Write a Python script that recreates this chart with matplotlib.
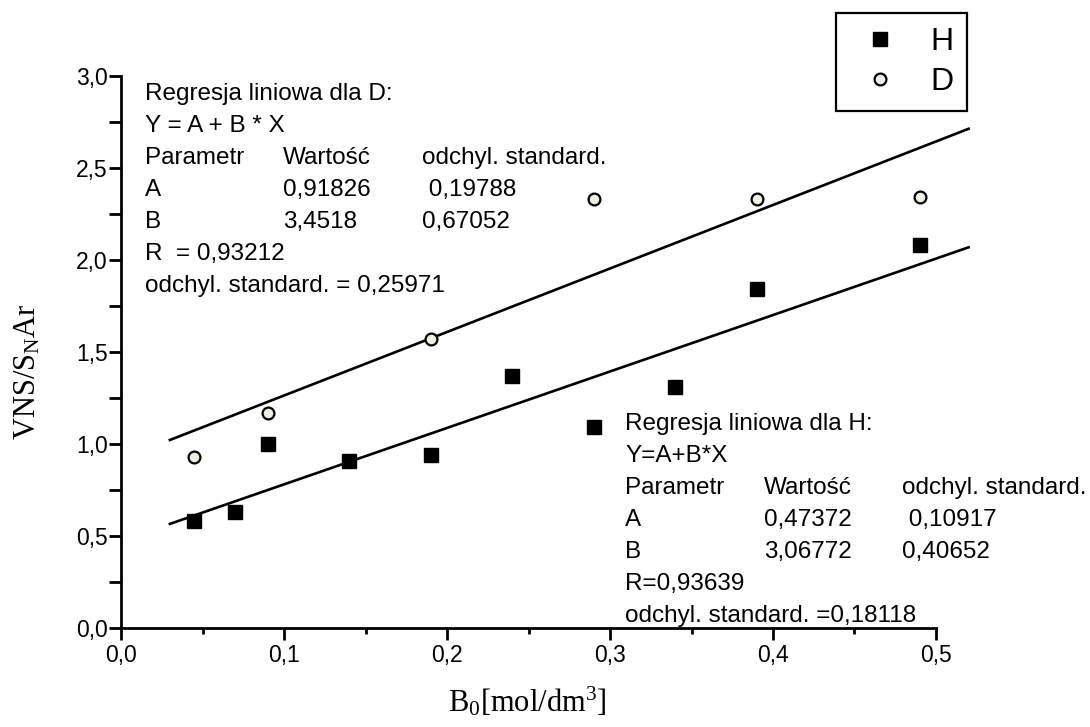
import matplotlib
matplotlib.use("Agg")
import matplotlib.pyplot as plt
from matplotlib.ticker import MultipleLocator, FuncFormatter

# --- data -------------------------------------------------------------
h_x = [0.045, 0.07, 0.09, 0.14, 0.19, 0.24, 0.29, 0.34, 0.39, 0.49]
h_y = [0.58, 0.63, 1.00, 0.91, 0.94, 1.37, 1.09, 1.31, 1.84, 2.08]

d_x = [0.045, 0.09, 0.19, 0.29, 0.39, 0.49]
d_y = [0.93, 1.17, 1.57, 2.33, 2.33, 2.34]

# linear regression results (Y = A + B * X)
h_A, h_B = 0.47372, 3.06772
d_A, d_B = 0.91826, 3.4518
fit_x = [0.03, 0.52]

d_table = [
    ("Regresja liniowa dla D:", "", ""),
    ("Y = A + B * X", "", ""),
    ("Parametr", "Wartość", "odchyl. standard."),
    ("A", "0,91826", " 0,19788"),
    ("B", "3,4518", "0,67052"),
    ("R  = 0,93212", "", ""),
    ("odchyl. standard. = 0,25971", "", ""),
]
h_table = [
    ("Regresja liniowa dla H:", "", ""),
    ("Y=A+B*X", "", ""),
    ("Parametr", "Wartość", "odchyl. standard."),
    ("A", "0,47372", " 0,10917"),
    ("B", "3,06772", "0,40652"),
    ("R=0,93639", "", ""),
    ("odchyl. standard. =0,18118", "", ""),
]

# --- figure -----------------------------------------------------------
W, H = 1090, 727
plt.rcParams["font.family"] = ["Liberation Sans", "DejaVu Sans"]
plt.rcParams["mathtext.fontset"] = "custom"
plt.rcParams["mathtext.rm"] = "Liberation Serif"
plt.rcParams["mathtext.it"] = "Liberation Serif:italic"

fig = plt.figure(figsize=(W / 100, H / 100), dpi=100)
ax = fig.add_axes([121 / W, 1 - 628 / H, 815 / W, 552 / H])

ax.set_xlim(0, 0.5)
ax.set_ylim(0, 3.0)

for side in ("top", "right"):
    ax.spines[side].set_visible(False)
for side in ("left", "bottom"):
    ax.spines[side].set_linewidth(2.0)

ax.xaxis.set_major_locator(MultipleLocator(0.1))
ax.xaxis.set_minor_locator(MultipleLocator(0.05))
ax.yaxis.set_major_locator(MultipleLocator(0.5))
ax.yaxis.set_minor_locator(MultipleLocator(0.25))
comma = FuncFormatter(lambda v, p: f"{v:.1f}".replace(".", ","))
ax.xaxis.set_major_formatter(comma)
ax.yaxis.set_major_formatter(comma)
ax.tick_params(axis="both", which="both", direction="out", width=2.0,
               labelsize=16.5)
ax.tick_params(axis="x", which="major", length=8.5, pad=3)
ax.tick_params(axis="x", which="minor", length=4)
ax.tick_params(axis="y", which="both", length=8.5, pad=1)

# regression lines
def line(A, B):
    return [A + B * x for x in fit_x]

ax.plot(fit_x, line(d_A, d_B), color="black", lw=1.9, clip_on=False, zorder=2)
ax.plot(fit_x, line(h_A, h_B), color="black", lw=1.9, clip_on=False, zorder=2)

# measured points
ax.plot(h_x, h_y, ls="none", marker="s", ms=9.5, color="black",
        label="H", zorder=3, clip_on=False)
ax.plot(d_x, d_y, ls="none", marker="o", ms=8.5, mfc="#eef1e2",
        mec="black", mew=1.6, label="D", zorder=3, clip_on=False)

ax.set_xlabel(r"$\mathrm{B_0[mol/dm^3]}$", fontsize=22, va="center")
ax.set_ylabel(r"$\mathrm{VNS/S_NAr}$", fontsize=22, va="center")
ax.xaxis.set_label_coords(527 / W, 1 - 702 / H, transform=fig.transFigure)
ax.yaxis.set_label_coords(28 / W, 1 - 372 / H, transform=fig.transFigure)

leg = ax.legend(loc="upper left", bbox_to_anchor=(836 / W, 1 - 13 / H),
                bbox_transform=fig.transFigure, borderaxespad=0,
                fontsize=23, frameon=True, fancybox=False,
                edgecolor="black", framealpha=1, borderpad=0.43,
                handlelength=1.9, handletextpad=0.62, labelspacing=0.32)
leg.get_frame().set_linewidth(1.6)

# regression summary tables
def draw_table(rows, cols, top, step):
    for i, row in enumerate(rows):
        y = 1 - (top + i * step) / H
        for x, s in zip(cols, row):
            if s:
                fig.text(x / W, y, s, fontsize=17.5, va="center", ha="left")

draw_table(d_table, (145, 283, 422), 94, 32)
draw_table(h_table, (625, 764, 902), 424, 32)

fig.savefig("out.png", dpi=100)
